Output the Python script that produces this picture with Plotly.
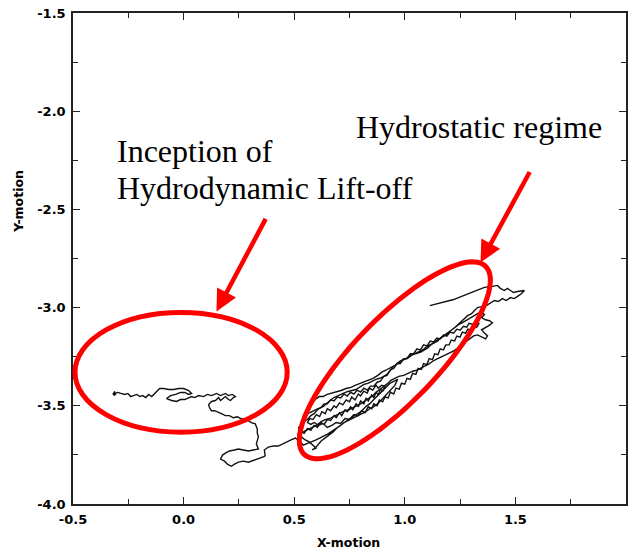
import math
import plotly.graph_objects as go

# ---------------- data ----------------
x_ticks = [-0.5, 0.0, 0.5, 1.0, 1.5, 2.0]
x_tick_text = ["-0.5", "0.0", "0.5", "1.0", "1.5", "2.0"]
y_ticks = [-4.0, -3.5, -3.0, -2.5, -2.0, -1.5]
y_tick_text = ["-4.0", "-3.5", "-3.0", "-2.5", "-2.0", "-1.5"]

# hydrostatic regime part of the shaft orbit (start at the upper right)
x_hydrostatic = [
    1.113, 1.149, 1.185, 1.221, 1.257, 1.293, 1.329, 1.360, 1.396, 1.419, 1.432, 1.450, 1.464, 1.477,
    1.491, 1.509, 1.527, 1.541, 1.523, 1.509, 1.495, 1.477, 1.459, 1.441, 1.423, 1.405, 1.387, 1.369,
    1.347, 1.329,
    1.315, 1.302, 1.284, 1.270, 1.252, 1.239, 1.225, 1.207, 1.194, 1.176, 1.162, 1.149, 1.131, 1.117,
    1.104, 1.090, 1.072, 1.059, 1.041, 1.027, 1.009, 0.995, 0.977, 0.959, 0.946, 0.932, 0.919, 0.905,
    0.887, 0.869, 0.851, 0.833, 0.815, 0.797, 0.779, 0.761, 0.743, 0.721, 0.698, 0.680, 0.662, 0.644,
    0.631, 0.608, 0.590, 0.572, 0.554,
    0.563, 0.581, 0.595, 0.613, 0.631, 0.649, 0.667, 0.689, 0.712, 0.734, 0.757, 0.775, 0.797, 0.815,
    0.833, 0.856, 0.878, 0.896, 0.914, 0.932, 0.955, 0.973, 0.991, 1.014, 1.032, 1.050, 1.068, 1.086,
    1.104, 1.122, 1.140, 1.158, 1.176, 1.194, 1.207, 1.225, 1.243, 1.261, 1.275, 1.293, 1.311, 1.329,
    1.347, 1.360, 1.347, 1.365, 1.383, 1.396, 1.378, 1.360, 1.347, 1.360, 1.374, 1.365,
    1.347, 1.329, 1.311, 1.293, 1.275, 1.257, 1.239, 1.221, 1.203, 1.180, 1.162, 1.144, 1.126, 1.108,
    1.090, 1.072, 1.054, 1.036, 1.018, 0.995, 0.973, 0.955, 0.937, 0.923, 0.905, 0.887, 0.869, 0.856,
    0.838, 0.820, 0.802, 0.784, 0.766, 0.748, 0.730, 0.712, 0.694, 0.676, 0.658, 0.640, 0.622, 0.604,
    0.586, 0.568, 0.550, 0.532, 0.514,
]
y_hydrostatic = [
    -2.990, -2.979, -2.969, -2.959, -2.943, -2.928, -2.913, -2.897, -2.892, -2.887, -2.902, -2.913, -2.902, -2.913,
    -2.923, -2.918, -2.913, -2.913, -2.933, -2.943, -2.954, -2.949, -2.964, -2.954, -2.969, -2.964, -2.979, -2.990,
    -2.995, -3.000,
    -3.015, -3.031, -3.041, -3.057, -3.077, -3.087, -3.103, -3.118, -3.129, -3.144, -3.154, -3.170, -3.180, -3.190,
    -3.206, -3.216, -3.226, -3.231, -3.237, -3.242, -3.257, -3.262, -3.273, -3.288, -3.303, -3.324, -3.340, -3.350,
    -3.360, -3.365, -3.376, -3.386, -3.391, -3.406, -3.417, -3.422, -3.427, -3.437, -3.448, -3.458, -3.473, -3.489,
    -3.504, -3.514, -3.525, -3.535, -3.540,
    -3.509, -3.489, -3.468, -3.453, -3.453, -3.442, -3.437, -3.432, -3.422, -3.412, -3.406, -3.396, -3.386, -3.381,
    -3.370, -3.360, -3.345, -3.329, -3.319, -3.309, -3.293, -3.283, -3.267, -3.257, -3.242, -3.231, -3.221, -3.211,
    -3.195, -3.185, -3.170, -3.159, -3.144, -3.134, -3.118, -3.103, -3.087, -3.077, -3.067, -3.057, -3.041, -3.031,
    -3.021, -3.036, -3.051, -3.062, -3.067, -3.077, -3.093, -3.103, -3.113, -3.129, -3.144, -3.159,
    -3.149, -3.139, -3.144, -3.159, -3.175, -3.190, -3.206, -3.221, -3.231, -3.242, -3.252, -3.262, -3.273, -3.288,
    -3.298, -3.309, -3.319, -3.324, -3.334, -3.345, -3.350, -3.360, -3.370, -3.386, -3.401, -3.417, -3.432, -3.448,
    -3.463, -3.478, -3.489, -3.499, -3.509, -3.520, -3.525, -3.535, -3.545, -3.556, -3.566, -3.571, -3.581, -3.597,
    -3.607, -3.617, -3.628, -3.638, -3.648,
]

# tangled, jagged passes through the dense part of the hydrostatic bundle
x_knot = [
    0.514, 0.530, 0.545, 0.560, 0.575, 0.590, 0.605, 0.620, 0.635, 0.650, 0.665, 0.680, 0.690, 0.705,
    0.715, 0.730, 0.740, 0.755, 0.765, 0.780, 0.790, 0.800, 0.815, 0.825, 0.835, 0.850, 0.860, 0.870,
    0.880, 0.890, 0.900, 0.910, 0.895, 0.880, 0.870, 0.855, 0.840, 0.830, 0.815, 0.800, 0.790, 0.775,
    0.760, 0.750, 0.735, 0.720, 0.705, 0.690, 0.680, 0.665, 0.650, 0.640, 0.625, 0.615, 0.600, 0.585,
    0.570, 0.560, 0.575, 0.590, 0.610, 0.630, 0.650, 0.670, 0.690, 0.710, 0.730, 0.750, 0.770, 0.790,
    0.805, 0.820, 0.835, 0.850, 0.860, 0.875, 0.885, 0.900, 0.910, 0.925, 0.935, 0.950, 0.960, 0.975,
    0.985, 1.000, 1.010, 1.025, 1.035, 1.050, 1.060, 1.075, 1.085, 1.100, 1.110, 1.125, 1.135, 1.150,
    1.160, 1.175, 1.185, 1.200, 1.210, 1.225, 1.235, 1.250, 1.260, 1.275, 1.285, 1.300, 1.310, 1.325,
    1.335, 1.320, 1.305, 1.290, 1.280, 1.265, 1.250, 1.235, 1.220, 1.205, 1.190, 1.175, 1.160, 1.145,
    1.130, 1.115, 1.100, 1.085, 1.070, 1.055, 1.040, 1.025, 1.010, 0.995, 0.980, 0.965, 0.950, 0.935,
    0.920, 0.905, 0.890, 0.875, 0.860, 0.845, 0.830, 0.815, 0.800, 0.785, 0.770, 0.755, 0.740, 0.725,
    0.710, 0.695, 0.680, 0.665, 0.650, 0.635, 0.620, 0.605, 0.590, 0.575, 0.560, 0.545, 0.530, 0.520,
    0.532,
]
y_knot = [
    -3.648, -3.630, -3.640, -3.615, -3.625, -3.600, -3.610, -3.585, -3.595, -3.570, -3.575, -3.550, -3.560, -3.535,
    -3.550, -3.520, -3.530, -3.505, -3.520, -3.490, -3.505, -3.475, -3.490, -3.460, -3.475, -3.445, -3.460, -3.430,
    -3.445, -3.415, -3.425, -3.400, -3.395, -3.410, -3.395, -3.420, -3.410, -3.435, -3.425, -3.450, -3.440, -3.470,
    -3.455, -3.480, -3.470, -3.495, -3.485, -3.510, -3.500, -3.525, -3.515, -3.540, -3.530, -3.555, -3.545, -3.570,
    -3.565, -3.585, -3.595, -3.585, -3.600, -3.590, -3.610, -3.600, -3.585, -3.590, -3.565, -3.570, -3.545, -3.550,
    -3.525, -3.535, -3.505, -3.515, -3.490, -3.500, -3.470, -3.480, -3.455, -3.460, -3.430, -3.440, -3.410, -3.415,
    -3.385, -3.390, -3.360, -3.365, -3.335, -3.340, -3.310, -3.315, -3.285, -3.290, -3.260, -3.265, -3.235, -3.240,
    -3.210, -3.215, -3.190, -3.190, -3.165, -3.170, -3.145, -3.150, -3.125, -3.130, -3.110, -3.115, -3.090, -3.100,
    -3.080, -3.075, -3.085, -3.080, -3.100, -3.095, -3.115, -3.110, -3.130, -3.125, -3.145, -3.140, -3.160, -3.155,
    -3.175, -3.170, -3.195, -3.190, -3.215, -3.210, -3.235, -3.235, -3.260, -3.260, -3.285, -3.285, -3.310, -3.315,
    -3.345, -3.350, -3.375, -3.380, -3.400, -3.400, -3.420, -3.410, -3.430, -3.420, -3.440, -3.430, -3.450, -3.440,
    -3.460, -3.455, -3.475, -3.470, -3.490, -3.490, -3.510, -3.520, -3.540, -3.550, -3.570, -3.580, -3.600, -3.610,
    -3.658,
]

# last hydrostatic pass towards the lower left
x_transition = [
    0.532, 0.550, 0.568, 0.586, 0.599, 0.581, 0.599, 0.622, 0.640, 0.658, 0.676, 0.694, 0.712, 0.730,
    0.752, 0.770, 0.788, 0.806, 0.824, 0.842, 0.860, 0.878, 0.896, 0.914, 0.932, 0.950, 0.968, 0.955,
    0.937, 0.923, 0.905, 0.892, 0.878, 0.860, 0.842, 0.824, 0.806, 0.784, 0.761, 0.743, 0.725, 0.707,
    0.689, 0.671, 0.653, 0.635, 0.617, 0.599, 0.577, 0.559, 0.541, 0.523, 0.505, 0.486, 0.468, 0.446,
    0.428, 0.405, 0.383, 0.365, 0.369,
]
y_transition = [
    -3.658, -3.674, -3.684, -3.700, -3.715, -3.725, -3.710, -3.679, -3.664, -3.648, -3.633, -3.612, -3.597, -3.581,
    -3.566, -3.550, -3.540, -3.525, -3.504, -3.489, -3.468, -3.448, -3.427, -3.406, -3.386, -3.376, -3.365, -3.396,
    -3.417, -3.437, -3.453, -3.473, -3.489, -3.504, -3.514, -3.530, -3.540, -3.556, -3.566, -3.576, -3.586, -3.602,
    -3.617, -3.628, -3.643, -3.653, -3.664, -3.674, -3.684, -3.694, -3.700, -3.679, -3.664, -3.674, -3.684, -3.694,
    -3.705, -3.705, -3.710, -3.725, -3.756,
]

# lift-off part of the shaft orbit
x_liftoff = [
    0.369, 0.347, 0.329, 0.311, 0.293, 0.270, 0.248, 0.230, 0.216, 0.198, 0.185, 0.167, 0.176, 0.189,
    0.207, 0.230, 0.248, 0.270, 0.293, 0.315, 0.338, 0.329, 0.333, 0.338, 0.333, 0.333, 0.324, 0.306,
    0.293, 0.275, 0.261, 0.243, 0.225, 0.207, 0.189, 0.171, 0.158, 0.140, 0.126, 0.117, 0.113, 0.126,
    0.144, 0.158, 0.167, 0.180, 0.189, 0.203, 0.212, 0.225, 0.234, 0.221, 0.203, 0.189, 0.167, 0.149,
    0.126, 0.108, 0.090, 0.068, 0.050, 0.036, 0.023, 0.005, -0.014, -0.032, -0.054, -0.077, -0.059, -0.036,
    -0.014, 0.005, 0.023, 0.036, 0.023, 0.000, -0.023, -0.045, -0.068, -0.090, -0.108, -0.117, -0.126, -0.144,
    -0.158, -0.171, -0.185, -0.198, -0.212, -0.225, -0.239, -0.252, -0.266, -0.284, -0.297, -0.311, -0.320,
    -0.311, -0.315, -0.305,
]
y_liftoff = [
    -3.756, -3.766, -3.771, -3.782, -3.787, -3.782, -3.787, -3.797, -3.808, -3.797, -3.782, -3.771, -3.751, -3.741,
    -3.730, -3.725, -3.720, -3.725, -3.730, -3.725, -3.720, -3.694, -3.674, -3.658, -3.638, -3.617, -3.592, -3.586,
    -3.576, -3.571, -3.566, -3.556, -3.561, -3.550, -3.550, -3.540, -3.535, -3.525, -3.525, -3.509, -3.494, -3.478,
    -3.473, -3.458, -3.473, -3.463, -3.453, -3.468, -3.473, -3.458, -3.453, -3.442, -3.448, -3.437, -3.448, -3.437,
    -3.448, -3.442, -3.453, -3.448, -3.458, -3.453, -3.458, -3.468, -3.468, -3.478, -3.473, -3.463, -3.448, -3.442,
    -3.432, -3.432, -3.442, -3.437, -3.422, -3.412, -3.412, -3.417, -3.417, -3.412, -3.412, -3.422, -3.437, -3.453,
    -3.442, -3.458, -3.448, -3.453, -3.442, -3.448, -3.453, -3.437, -3.442, -3.437, -3.432, -3.437, -3.442,
    -3.427, -3.447, -3.440,
]

annot_inception = ["Inception of", "Hydrodynamic Lift-off"]
annot_hydrostatic = "Hydrostatic regime"

# ---------------- layout geometry ----------------
W, H = 634, 554
ML, MR, MT, MB = 73, 6, 12, 50
PW, PH = W - ML - MR, H - MT - MB


def pxp(px, py):
    """pixel position in the page -> paper coordinates"""
    return (px - ML) / PW, (H - MB - py) / PH


line_col = "#222222"
red = "rgb(255,0,0)"

fig = go.Figure()
for xs, ys in ((x_hydrostatic, y_hydrostatic), (x_knot, y_knot),
               (x_transition, y_transition), (x_liftoff, y_liftoff)):
    fig.add_trace(go.Scatter(x=xs, y=ys, mode="lines",
                             line=dict(color="#111111", width=1.4),
                             showlegend=False, hoverinfo="skip"))

axis_common = dict(
    showgrid=False, zeroline=False, showline=True, linecolor=line_col, linewidth=1.5,
    mirror="ticks", ticks="inside", ticklen=7, tickwidth=1.3, tickcolor=line_col,
    tickfont=dict(family="DejaVu Sans", size=13, color="black", weight="bold"),
    minor=dict(ticks="inside", ticklen=5, tickwidth=1.2, tickcolor=line_col, dtick=0.25),
)

fig.update_xaxes(range=[-0.5, 2.0], tickmode="array", tickvals=x_ticks, ticktext=x_tick_text,
                 ticklabelstandoff=3, **axis_common)
fig.update_yaxes(range=[-4.0, -1.5], tickmode="array", tickvals=y_ticks, ticktext=y_tick_text,
                 ticklabelstandoff=3, **axis_common)

annotations = []
# axis titles
xt = pxp(349, 543)
annotations.append(dict(x=xt[0], y=xt[1], xref="paper", yref="paper", text="<b>X-motion</b>", showarrow=False,
                        font=dict(family="DejaVu Sans", size=12.5, color="black"),
                        xanchor="center", yanchor="middle"))
yt = pxp(18, 201)
annotations.append(dict(x=yt[0], y=yt[1], xref="paper", yref="paper", text="<b>Y-motion</b>", showarrow=False,
                        textangle=-90,
                        font=dict(family="DejaVu Sans", size=12.5, color="black"),
                        xanchor="center", yanchor="middle"))
serif = dict(family="Liberation Serif", size=32, color="black")
for txt, (px, py) in zip(annot_inception + [annot_hydrostatic], [(115, 150), (115, 187), (355, 126)]):
    p = pxp(px, py)
    annotations.append(dict(x=p[0], y=p[1], xref="paper", yref="paper", text=txt, showarrow=False,
                            font=serif, xanchor="left", yanchor="middle"))
# red arrows (tip, tail)
for (tx, ty), (sx, sy) in [((217, 311), (267, 217)), ((482, 262), (532, 170))]:
    p = pxp(tx, ty)
    annotations.append(dict(x=p[0], y=p[1], xref="paper", yref="paper", text="", showarrow=True,
                            ax=sx - tx, ay=sy - ty, arrowcolor=red, arrowwidth=4.5,
                            arrowhead=2, arrowsize=0.95, standoff=0))

shapes = []
# left ellipse
a0 = pxp(75, 432)
a1 = pxp(288, 312)
shapes.append(dict(type="circle", xref="paper", yref="paper", x0=a0[0], y0=a0[1], x1=a1[0], y1=a1[1],
                   line=dict(color=red, width=5), layer="above"))
# rotated ellipse
cx, cy, ea, eb, phi = 396, 360, 131, 42, math.radians(46)
pts = []
for k in range(121):
    t = 2 * math.pi * k / 120
    ex, ey = ea * math.cos(t), eb * math.sin(t)
    px = cx + ex * math.cos(phi) + ey * math.sin(phi)
    py = cy - ex * math.sin(phi) + ey * math.cos(phi)
    pts.append(pxp(px, py))
path = "M " + " L ".join(f"{u:.5f},{v:.5f}" for u, v in pts) + " Z"
shapes.append(dict(type="path", xref="paper", yref="paper", path=path,
                   line=dict(color=red, width=5), layer="above"))

fig.update_layout(
    width=W, height=H, margin=dict(l=ML, r=MR, t=MT, b=MB),
    paper_bgcolor="white", plot_bgcolor="white",
    annotations=annotations, shapes=shapes, showlegend=False,
)

fig.write_html("out.html")
